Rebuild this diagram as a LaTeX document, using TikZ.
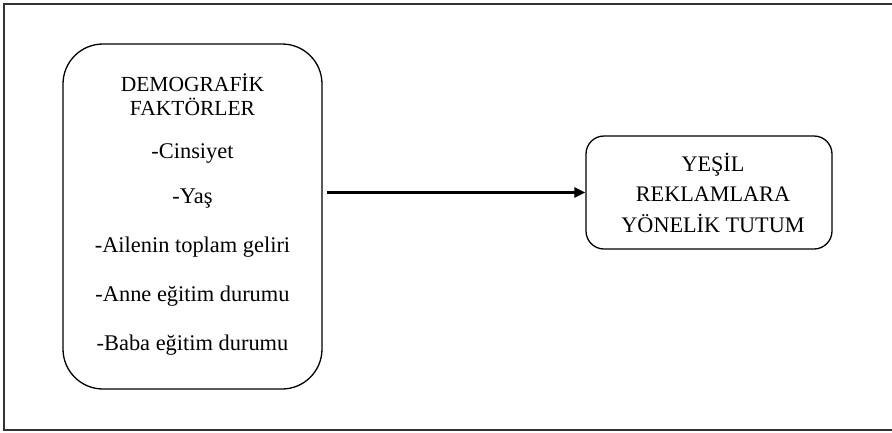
\documentclass[tikz,border=0pt]{standalone}
\usepackage{fontspec}
\setmainfont{Liberation Serif}
\usetikzlibrary{arrows.meta}
\begin{document}
\begin{tikzpicture}[x=1pt,y=-1pt,
  box/.style={draw, line width=1.3pt, inner sep=0pt},
  lbl/.style={font=\fontsize{22.4}{26}\selectfont, inner sep=0pt, anchor=center},
  ttl/.style={font=\fontsize{21.5}{25}\selectfont, inner sep=0pt, anchor=center},
  rtx/.style={font=\fontsize{22.2}{26}\selectfont, inner sep=0pt, anchor=center},
  conn/.style={line width=2.2pt, -{Triangle[length=11pt,width=10pt]}}]
\useasboundingbox (0,0) rectangle (892,432);
\draw[line width=1.5pt, black!80] (892,4) -- (4,4) -- (4,430) -- (892,430);
\node[box, rounded corners=40pt, minimum width=259pt, minimum height=345pt] (demo) at (192.5,216.5) {};
\node[box, rounded corners=18pt, minimum width=246pt, minimum height=113pt] (tutum) at (709,192.5) {};
\node[ttl] (t1) at (192.5,83) {DEMOGRAFİK};
\node[ttl] (t2) at (192.5,107) {FAKTÖRLER};
\node[lbl] (t3) at (192.5,153) {-Cinsiyet};
\node[lbl] (t4) at (192.5,199) {-Yaş};
\node[lbl] (t5) at (192.5,247) {-Ailenin toplam geliri};
\node[lbl] (t6) at (192.5,296) {-Anne eğitim durumu};
\node[lbl] (t7) at (192.5,345) {-Baba eğitim durumu};
\node[rtx] (r1) at (713,165) {YEŞİL};
\node[rtx] (r2) at (713,194) {REKLAMLARA};
\node[rtx] (r3) at (713,223) {YÖNELİK TUTUM};
\coordinate (start) at (327,192.5);
\draw[conn] (start) -- (tutum.west);
\end{tikzpicture}
\end{document}
